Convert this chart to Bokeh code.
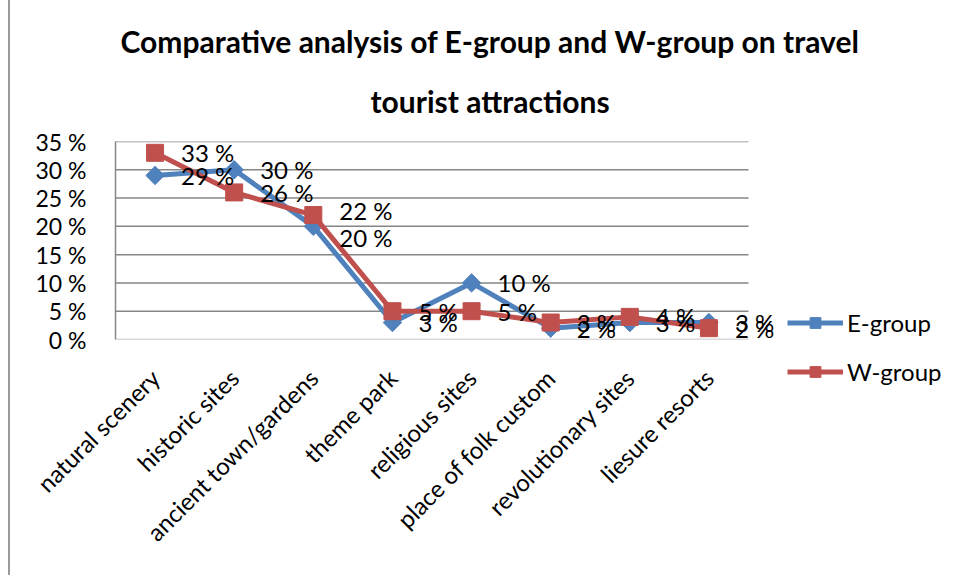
import math
from bokeh.plotting import figure
from bokeh.models import (Range1d, FixedTicker, PrintfTickFormatter,
                          ColumnDataSource, LabelSet, Legend, LegendItem, Title)
from bokeh.core.properties import value
from bokeh.embed import file_html
from bokeh.resources import INLINE

categories = ["natural scenery", "historic sites", "ancient town/gardens", "theme park",
              "religious sites", "place of folk custom", "revolutionary sites", "liesure resorts"]
e_group = [29, 30, 20, 3, 10, 2, 3, 3]
w_group = [33, 26, 22, 5, 5, 3, 4, 2]
y_ticks = [0, 5, 10, 15, 20, 25, 30, 35]
title_line1 = "Comparative analysis of E-group and W-group on  travel"
title_line2 = "tourist attractions"

# style: small vertical nudges (px) of data labels to avoid overlap, as in the original
e_label_nudge = [0, 0, -11, 0, 0, 0, 0, 0]
w_label_nudge = [0, 0, 5, 0, 0, 0, 0, 0]

FONT = "Lato"
BLUE = "#4F81BD"
RED = "#C0504D"
GRID = "#868686"
FS = "24px"

n = len(categories)
xpos = [i + 0.5 for i in range(n)]   # category centres on the numeric scale

src = ColumnDataSource(dict(
    x=xpos, cat=categories, e=e_group, w=w_group,
    el=[f"{v} %" for v in e_group], wl=[f"{v} %" for v in w_group],
    en=e_label_nudge, wn=w_label_nudge,
))

left_b, top_b, right_b, bottom_b = 105, 141, 172, 236
plot_w, frame_w, frame_h = 633, 663, 198

p = figure(x_range=Range1d(0, n * frame_w / plot_w), y_range=Range1d(0, 35),
           frame_width=frame_w, frame_height=frame_h,
           output_backend="svg", toolbar_location=None,
           min_border_left=left_b, min_border_right=right_b,
           min_border_top=top_b, min_border_bottom=bottom_b)
p.styles = {"margin-left": "8px", "border-left": "2px solid #9a9a9a"}

# title (two lines)
p.title.text = title_line1
p.title.align = "left"
p.title.offset = 5
p.title.text_font = FONT
p.title.text_font_size = "30px"
p.title.text_font_style = "bold"
p.title.text_color = "black"
p.title.standoff = 0
t2 = Title(text=title_line2, align="left", offset=255, text_font=FONT,
           text_font_size="30px", text_font_style="bold", text_color="black",
           standoff=45)
p.add_layout(t2, "above")

p.outline_line_color = None
p.grid.grid_line_color = None

# horizontal gridlines spanning the category area only
p.segment(x0=[0] * (len(y_ticks) - 1), x1=[n] * (len(y_ticks) - 1),
          y0=y_ticks[1:], y1=y_ticks[1:], line_color=GRID, line_width=1.5)
p.segment(x0=[0], x1=[n], y0=[y_ticks[0]], y1=[y_ticks[0]],
          line_color="#b4b4b4", line_width=1.5)

p.yaxis.ticker = FixedTicker(ticks=y_ticks)
p.yaxis.formatter = PrintfTickFormatter(format="%d %%")
p.yaxis.axis_line_color = GRID
p.yaxis.axis_line_width = 1.5
p.yaxis.major_tick_line_color = None
p.yaxis.minor_tick_line_color = None
p.yaxis.major_label_standoff = 23
p.yaxis.major_label_text_font = FONT
p.yaxis.major_label_text_font_size = "23px"
p.yaxis.major_label_text_color = "black"

p.xaxis.ticker = FixedTicker(ticks=xpos)
p.xaxis.major_label_overrides = {x: c for x, c in zip(xpos, categories)}
p.xaxis.axis_line_color = None
p.xaxis.major_tick_line_color = None
p.xaxis.minor_tick_line_color = None
p.xaxis.major_label_orientation = math.pi / 4
p.xaxis.major_label_standoff = 28
p.xaxis.major_label_text_font = FONT
p.xaxis.major_label_text_font_size = FS
p.xaxis.major_label_text_color = "black"

le = p.line("x", "e", source=src, line_color=BLUE, line_width=5)
me = p.scatter("x", "e", source=src, marker="square", angle=math.pi / 4, size=13,
               fill_color=BLUE, line_color=BLUE)
lw = p.line("x", "w", source=src, line_color=RED, line_width=5)
mw = p.scatter("x", "w", source=src, marker="square", size=17,
               fill_color=RED, line_color=RED)

for col, yc, nc in (("el", "e", "en"), ("wl", "w", "wn")):
    p.add_layout(LabelSet(x="x", y=yc, text=col, source=src, x_offset=26, y_offset=nc,
                          text_align="left", text_baseline="middle",
                          text_font=value(FONT), text_font_size=value(FS),
                          text_color="black"))

legend = Legend(items=[LegendItem(label="E-group", renderers=[le, me]),
                       LegendItem(label="W-group", renderers=[lw, mw])],
                location=(9, -47), glyph_width=56, glyph_height=27, spacing=20,
                label_text_font=FONT, label_text_font_size=FS, label_standoff=4,
                label_text_color="black",
                border_line_color=None, background_fill_alpha=0, padding=0, margin=0)
p.add_layout(legend, "right")

open("out.html", "w").write(file_html(p, INLINE))
